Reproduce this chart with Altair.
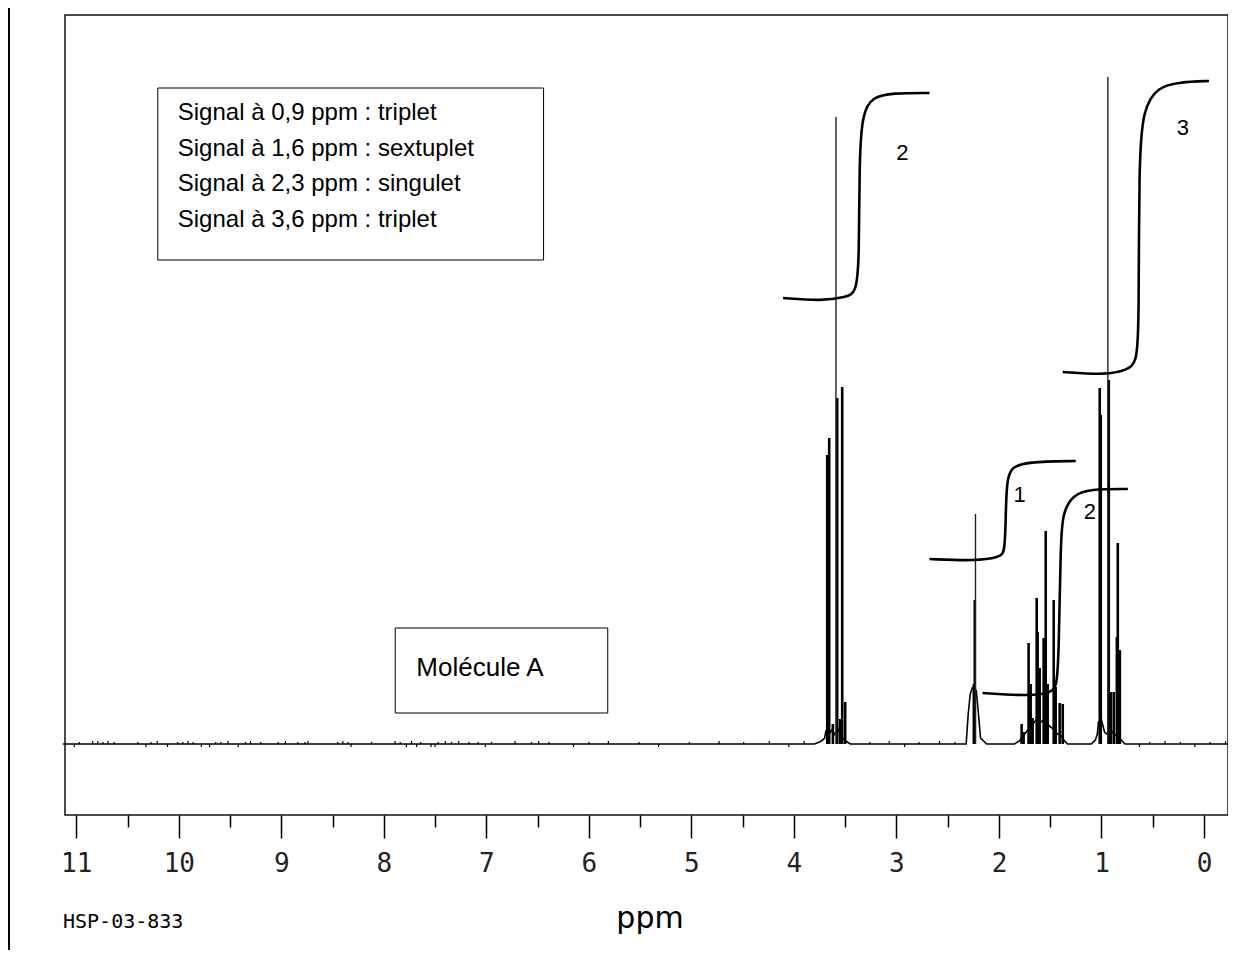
import altair as alt
import pandas as pd

# ---------------- data ----------------
# x axis ticks (ppm)
major_ticks = [0, 1, 2, 3, 4, 5, 6, 7, 8, 9, 10, 11]
minor_ticks = [0.5, 1.5, 2.5, 3.5, 4.5, 5.5, 6.5, 7.5, 8.5, 9.5, 10.5]

# spectrum lines (ppm, intensity)
peak_ppm = [3.675, 3.656, 3.620, 3.578, 3.550, 3.529, 3.500,
            2.245, 2.236,
            1.779, 1.760, 1.711, 1.691, 1.672, 1.632, 1.623, 1.603, 1.564,
            1.544, 1.525, 1.466, 1.447, 1.408, 1.378,
            1.017, 1.007, 0.929, 0.909, 0.880, 0.850, 0.841, 0.821]
peak_height = [289, 306, 20, 346, 25, 357, 42,
               60, 144,
               20, 12, 101, 60, 26, 146, 112, 76, 106,
               213, 60, 144, 57, 41, 40,
               356, 329, 364, 52, 52, 107, 201, 94]

# the three tallest, thin lines
thin_ppm = [3.590, 2.229, 0.938]
thin_height = [627, 230, 667]

# baseline with the broad feet of the multiplets
base_ppm = [11.13, 3.80, 3.75, 3.72, 3.70, 3.69, 3.67, 3.63, 3.61, 3.57, 3.54, 3.51, 3.48, 3.45,
            2.32, 2.30, 2.28, 2.26, 2.24, 2.22, 2.20, 2.18, 2.12,
            1.85, 1.80, 1.78, 1.75, 1.71, 1.67, 1.63, 1.59, 1.55, 1.51, 1.47, 1.43, 1.39, 1.36, 1.33,
            1.10, 1.06, 1.04, 1.03, 1.00, 0.97, 0.95, 0.91, 0.88, 0.85, 0.82, 0.80, 0.77, -0.29]
base_height = [0, 0, 2, 4, 6, 12, 8, 14, 9, 15, 8, 4, 2, 0,
               0, 30, 50, 56, 58, 52, 30, 6, 0,
               0, 3, 6, 10, 15, 20, 25, 22, 25, 18, 15, 10, 8, 3, 0,
               0, 4, 10, 22, 24, 12, 10, 14, 10, 8, 6, 3, 0, 0]

# baseline noise
noise_ppm = [11.02, 10.97, 10.84, 10.79, 10.74, 10.69, 10.63, 10.40, 10.32, 10.27, 10.21,
             10.11, 10.01, 9.96, 9.91, 9.86, 9.78, 9.70, 9.64, 9.59, 9.52, 9.42, 9.35,
             9.30, 9.20, 9.03, 8.96, 8.84, 8.77, 8.74, 8.45, 8.40, 8.35, 8.32, 8.12, 7.89,
             7.84, 7.78, 7.73, 7.68, 7.64, 7.54, 7.50, 7.47, 7.40, 7.34, 7.27, 7.17, 7.08,
             7.01, 6.95, 6.72, 6.56, 6.49, 6.39, 6.15, 6.00, 5.81, 5.51, 5.32, 5.02, 4.73,
             4.49, 4.24, 4.05, 3.90, 3.26, 3.07, 2.92, 2.78, 2.58, 2.43, 0.63, 0.53, 0.38,
             0.23, 0.09, -0.06, -0.21]
noise_height = [-3, 2, 3, 3, 2, 3, 2, 2, -3, 2, 3,
                -3, 2, 2, 3, 2, -3, -3, 2, 2, 3, -3, 2,
                3, 2, 2, 3, 2, 2, 3, 2, 3, 2, -3, 2, 3,
                2, -3, 3, -3, 2, -3, -3, 2, 3, 2, 3, 2, 2,
                -3, 2, 3, 2, 3, 2, -3, 2, 3, 2, -3, 2, 3,
                2, 3, -3, 3, 2, 3, -3, 2, 3, 2, -3, 2, 3,
                2, -3, 2, 3]

# integration curves (ppm, height), hand-drawn
int_A_ppm = [4.106, 3.724, 3.490, 3.392, 3.363, 3.363, 3.333, 3.236, 3.040, 2.678]
int_A_h = [446, 443, 447, 451, 484, 584, 631, 647, 651, 651]
int_B_ppm = [1.378, 0.948, 0.753, 0.655, 0.635, 0.635, 0.596, 0.459, 0.235, -0.049]
int_B_h = [372, 369, 374, 381, 417, 584, 634, 657, 662, 663]
int_C_ppm = [2.678, 2.219, 1.994, 1.945, 1.935, 1.926, 1.877, 1.730, 1.251]
int_C_h = [185, 183, 187, 191, 221, 264, 277, 282, 283]
int_D_ppm = [2.160, 1.730, 1.505, 1.437, 1.417, 1.398, 1.378, 1.281, 1.114, 0.743]
int_D_h = [51, 48, 51, 56, 87, 204, 231, 249, 255, 255]

int_labels = ["2", "3", "1", "2"]
int_label_ppm = [2.942, 0.205, 1.799, 1.114]
int_label_h = [591, 616, 249, 232]

info_lines = ["Signal à 0,9 ppm : triplet",
              "Signal à 1,6 ppm : sextuplet",
              "Signal à 2,3 ppm : singulet",
              "Signal à 3,6 ppm : triplet"]
info_ppm = [10.01, 10.01, 10.01, 10.01]
info_h = [631, 595, 560, 524]

molecule_label = "Molécule A"

# ---------------- tables ----------------
peaks = pd.DataFrame({"ppm": peak_ppm, "h": peak_height, "b": 0})
thin = pd.DataFrame({"ppm": thin_ppm, "h": thin_height, "b": 0})
base = pd.DataFrame({"ppm": base_ppm, "h": base_height})
noise = pd.DataFrame({"ppm": noise_ppm, "h": noise_height, "b": 0})

rows = []
for name, xs, ys in [("A", int_A_ppm, int_A_h), ("B", int_B_ppm, int_B_h),
                     ("C", int_C_ppm, int_C_h), ("D", int_D_ppm, int_D_h)]:
    for i, (xv, yv) in enumerate(zip(xs, ys)):
        rows.append({"curve": name, "i": i, "ppm": xv, "h": yv})
integrals = pd.DataFrame(rows)
labels = pd.DataFrame({"t": int_labels, "ppm": int_label_ppm, "h": int_label_h})
info = pd.DataFrame({"t": info_lines, "ppm": info_ppm, "h": info_h})
boxes = pd.DataFrame({"ppm": [10.205, 7.889], "x2": [6.442, 5.816],
                      "h": [656, 116], "y2": [484, 31]})
mol = pd.DataFrame({"t": [molecule_label], "ppm": [7.683], "h": [76]})

xscale = alt.Scale(domain=[11.11, -0.234], nice=False, zero=False)
yscale = alt.Scale(domain=[-71, 729], nice=False, zero=False)

xaxis = alt.Axis(
    values=sorted(major_ticks + minor_ticks),
    tickSize={"condition": {"test": "datum.value % 1 === 0", "value": 23}, "value": 12},
    tickWidth=1.5, tickColor="black", domain=False, grid=False,
    labelExpr="datum.value % 1 === 0 ? format(datum.value, 'd') : ''",
    labelFont="DejaVu Sans Mono", labelFontSize=26, labelColor="#222",
    labelPadding=12, labelOverlap=False, labelFlush=False, title=None,
)
X = alt.X("ppm:Q", scale=xscale, axis=xaxis, title=None)
Y = alt.Y("h:Q", scale=yscale, axis=None)

baseline = alt.Chart(base).mark_line(color="black", strokeWidth=1.6).encode(x=X, y=Y)
noise_l = alt.Chart(noise).mark_rule(color="black", strokeWidth=1.2).encode(
    x=X, y=Y, y2="b:Q")
peaks_l = alt.Chart(peaks).mark_rule(color="black", strokeWidth=2.6).encode(
    x=X, y=Y, y2="b:Q")
thin_l = alt.Chart(thin).mark_rule(color="#222", strokeWidth=1.4).encode(
    x=X, y=Y, y2="b:Q")
int_l = alt.Chart(integrals).mark_line(color="black", strokeWidth=2.6,
                                       interpolate="basis").encode(
    x=X, y=Y, detail="curve:N", order="i:Q")
lab_l = alt.Chart(labels).mark_text(font="Liberation Sans", fontSize=22,
                                    color="black").encode(x=X, y=Y, text="t:N")
box_l = alt.Chart(boxes).mark_rect(fill="white", fillOpacity=0, stroke="black",
                                   strokeWidth=1).encode(
    x=X, x2="x2:Q", y=Y, y2="y2:Q")
info_l = alt.Chart(info).mark_text(font="Liberation Sans", fontSize=24, align="left",
                                   baseline="middle", color="black").encode(
    x=X, y=Y, text="t:N")
mol_l = alt.Chart(mol).mark_text(font="Liberation Sans", fontSize=26, align="left",
                                 baseline="middle", color="black").encode(
    x=X, y=Y, text="t:N")

ppm_l = alt.Chart(pd.DataFrame({"t": ["ppm"]})).mark_text(
    font="DejaVu Sans", fontSize=30, align="center", baseline="alphabetic",
    color="black").encode(text="t:N", x=alt.value(585), y=alt.value(913))
code_l = alt.Chart(pd.DataFrame({"t": ["HSP-03-833"]})).mark_text(
    font="DejaVu Sans Mono", fontSize=20, align="left", baseline="alphabetic",
    color="black").encode(text="t:N", x=alt.value(-2), y=alt.value(913))
border_l = alt.Chart(pd.DataFrame({"t": [0]})).mark_rule(
    color="black", strokeWidth=2).encode(
    x=alt.value(-56), y=alt.value(-8), y2=alt.value(950))

chart = alt.layer(
    baseline, noise_l, peaks_l, thin_l, int_l, lab_l, box_l, info_l, mol_l,
    ppm_l, code_l, border_l
).properties(
    width=1163, height=800,
    padding={"left": 57, "top": 7, "right": 0, "bottom": 135},
    autosize=alt.AutoSizeParams(type="none"),
    background="white",
).configure_view(stroke="#111", strokeWidth=1.5)

chart.save("out.html", embed_options={"renderer": "svg", "actions": False})
